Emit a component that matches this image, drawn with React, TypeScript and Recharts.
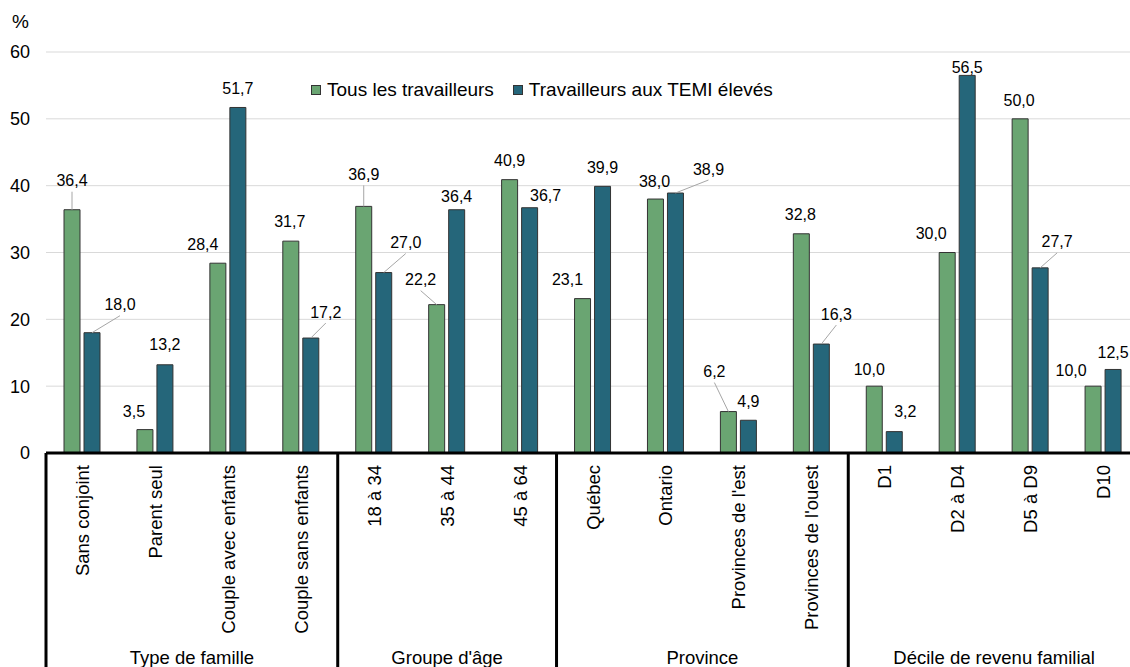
import { BarChart, Bar, XAxis, YAxis, CartesianGrid, Legend, LabelList } from "recharts"

const FONT = "'Liberation Sans', Arial, sans-serif"

const categories = [
  "Sans conjoint",
  "Parent seul",
  "Couple avec enfants",
  "Couple sans enfants",
  "18 à 34",
  "35 à 44",
  "45 à 64",
  "Québec",
  "Ontario",
  "Provinces de l'est",
  "Provinces de l'ouest",
  "D1",
  "D2 à D4",
  "D5 à D9",
  "D10",
]

const tousLesTravailleurs = [36.4, 3.5, 28.4, 31.7, 36.9, 22.2, 40.9, 23.1, 38.0, 6.2, 32.8, 10.0, 30.0, 50.0, 10.0]
const travailleursTemi = [18.0, 13.2, 51.7, 17.2, 27.0, 36.4, 36.7, 39.9, 38.9, 4.9, 16.3, 3.2, 56.5, 27.7, 12.5]

const groups = [
  { name: "Type de famille", count: 4 },
  { name: "Groupe d'âge", count: 3 },
  { name: "Province", count: 4 },
  { name: "Décile de revenu familial", count: 4 },
]

const yTicks = [0, 10, 20, 30, 40, 50, 60]

const GREEN = "#6aa572"
const TEAL = "#25667a"

// label placement relative to the top centre of each bar
const tousOffsets = [
  { dx: 0, dy: -29, line: true },
  { dx: -11, dy: -18 },
  { dx: -15, dy: -19 },
  { dx: -1, dy: -20 },
  { dx: 0, dy: -32, line: true },
  { dx: -16, dy: -25, line: true },
  { dx: 0, dy: -19 },
  { dx: -15, dy: -19 },
  { dx: -1, dy: -18 },
  { dx: -14, dy: -40, line: true },
  { dx: -1, dy: -19 },
  { dx: -5, dy: -17 },
  { dx: -16, dy: -19 },
  { dx: -1, dy: -18 },
  { dx: -22, dy: -16 },
]

const temiOffsets = [
  { dx: 28, dy: -28, line: true },
  { dx: 0, dy: -20 },
  { dx: 0, dy: -19 },
  { dx: 15, dy: -26, line: true },
  { dx: 22, dy: -30, line: true },
  { dx: 0, dy: -13 },
  { dx: 16, dy: -12 },
  { dx: 0, dy: -19 },
  { dx: 33, dy: -24, line: true },
  { dx: 0, dy: -19 },
  { dx: 15, dy: -30, line: true },
  { dx: 11, dy: -20 },
  { dx: 0, dy: -8 },
  { dx: 17, dy: -26, line: true },
  { dx: 0, dy: -17 },
]

const data = categories.map((name, i) => ({
  name,
  tous: tousLesTravailleurs[i],
  temi: travailleursTemi[i],
}))

const CHART_W = 1160
const CHART_H = 720
const Y_AXIS_W = 46
const MARGIN_RIGHT = 20
const CAT_W = (CHART_W - Y_AXIS_W - MARGIN_RIGHT) / categories.length

const fmt = (v: number) => v.toFixed(1).replace(".", ",")

const makeLabel = (offsets: { dx: number; dy: number; line?: boolean }[]) => (props: any) => {
  const { x, y, width, value, index } = props
  const o = offsets[index]
  if (!o) return null
  const bx = Number(x) + Number(width) / 2
  const by = Number(y)
  const lx = bx + o.dx
  const ly = by + o.dy
  return (
    <g>
      {o.line && <line x1={bx} y1={by} x2={lx} y2={ly + 11} stroke="#a6a6a6" strokeWidth={1} />}
      <text x={lx} y={ly} textAnchor="middle" dominantBaseline="central" fontSize={16} fontFamily={FONT} fill="#000">
        {fmt(Number(value))}
      </text>
    </g>
  )
}

const groupStarts = groups.reduce<number[]>((acc, g, i) => {
  acc.push(i === 0 ? 0 : acc[i - 1] + groups[i - 1].count)
  return acc
}, [])

function CategoryTick(props: any) {
  const { x, y, payload } = props
  const i = payload.index
  const gi = groupStarts.indexOf(i)
  return (
    <g>
      <text
        x={x}
        y={y + 12}
        transform={`rotate(-90, ${x}, ${y + 12})`}
        textAnchor="end"
        dominantBaseline="central"
        fontSize={18.5}
        fontFamily={FONT}
        fill="#000"
      >
        {payload.value}
      </text>
      {gi >= 0 && (
        <g>
          <line x1={x - CAT_W / 2} y1={y} x2={x - CAT_W / 2} y2={y + 300} stroke="#000" strokeWidth={3} />
          <text
            x={x + ((groups[gi].count - 1) / 2) * CAT_W}
            y={y + 204}
            textAnchor="middle"
            dominantBaseline="central"
            fontSize={18.5}
            fontFamily={FONT}
            fill="#000"
          >
            {groups[gi].name}
          </text>
        </g>
      )}
      {i === categories.length - 1 && (
        <line x1={x + CAT_W / 2} y1={y} x2={x + CAT_W / 2} y2={y + 300} stroke="#000" strokeWidth={3} />
      )}
    </g>
  )
}

function renderLegend() {
  const items = [
    { name: "Tous les travailleurs", color: GREEN },
    { name: "Travailleurs aux TEMI élevés", color: TEAL },
  ]
  return (
    <div style={{ display: "flex", fontFamily: FONT, fontSize: 19, lineHeight: "22px", color: "#000", whiteSpace: "nowrap" }}>
      {items.map((it) => (
        <div key={it.name} style={{ display: "flex", alignItems: "center", marginRight: 19 }}>
          <span
            style={{
              display: "inline-block",
              width: 8,
              height: 8,
              background: it.color,
              border: "1px solid #333",
              marginRight: 6,
            }}
          />
          {it.name}
        </div>
      ))}
    </div>
  )
}

export default function App() {
  return (
    <div style={{ position: "absolute", left: 0, top: 0, width: 1130, height: 667, overflow: "hidden", background: "#fff" }}>
      <div style={{ position: "absolute", left: 12, top: 11, fontFamily: FONT, fontSize: 19, lineHeight: "22px" }}>%</div>
      <BarChart
        width={CHART_W}
        height={CHART_H}
        data={data}
        margin={{ top: 52, right: MARGIN_RIGHT, left: 0, bottom: 0 }}
        barSize={16}
        barGap={4}
      >
        <CartesianGrid vertical={false} stroke="#d9d9d9" />
        <XAxis
          dataKey="name"
          height={267}
          interval={0}
          tickSize={0}
          tickMargin={0}
          axisLine={{ stroke: "#000", strokeWidth: 3 }}
          tickLine={false}
          tick={<CategoryTick />}
        />
        <YAxis
          width={Y_AXIS_W}
          domain={[0, 60]}
          ticks={yTicks}
          axisLine={false}
          tickLine={false}
          tickSize={0}
          tickMargin={16}
          tick={{ fontSize: 18, fill: "#000", fontFamily: FONT }}
        />
        <Legend
          layout="horizontal"
          verticalAlign="middle"
          align="center"
          content={renderLegend}
          wrapperStyle={{ position: "absolute", top: 79, left: 311, width: "auto", height: "auto" }}
        />
        <Bar dataKey="tous" name="Tous les travailleurs" fill={GREEN} stroke="#333" strokeWidth={1} isAnimationActive={false}>
          <LabelList dataKey="tous" content={makeLabel(tousOffsets)} />
        </Bar>
        <Bar dataKey="temi" name="Travailleurs aux TEMI élevés" fill={TEAL} stroke="#333" strokeWidth={1} isAnimationActive={false}>
          <LabelList dataKey="temi" content={makeLabel(temiOffsets)} />
        </Bar>
      </BarChart>
    </div>
  )
}
